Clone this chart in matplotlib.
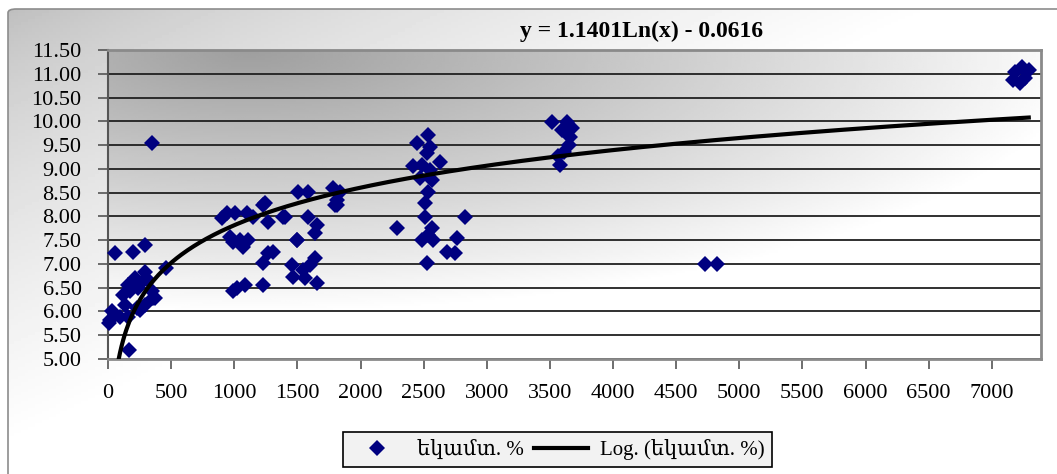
import numpy as np
import matplotlib
matplotlib.use('Agg')
import matplotlib.pyplot as plt
from matplotlib.lines import Line2D
from matplotlib.patches import FancyBboxPatch

plt.rcParams['font.family'] = ['Liberation Serif', 'DejaVu Serif']

# data
income_x = [10, 16, 29, 55, 95, 119, 135, 158, 160, 170, 174, 200, 214, 227, 238, 253,
            267, 293, 293, 293, 317, 349, 349, 358, 373, 460,
            901, 940, 967, 993, 993, 1006, 1020, 1046, 1072, 1086, 1099, 1112, 1152,
            1231, 1231, 1231, 1244, 1270, 1270, 1310, 1389, 1402, 1455, 1469, 1495,
            1495, 1508, 1548, 1561, 1587, 1587, 1601, 1640, 1640, 1653, 1653, 1785,
            1799, 1812, 1812, 1838,
            2287, 2419, 2446, 2472, 2485, 2485, 2512, 2512, 2525, 2525, 2538, 2538,
            2538, 2551, 2551, 2565, 2565, 2578, 2631, 2684, 2750, 2763, 2829,
            3516, 3568, 3582, 3595, 3608, 3635, 3648, 3661, 3674,
            4731, 4823,
            7171, 7187, 7227, 7240, 7266, 7293]
income_y = [5.76, 5.82, 6.00, 7.24, 5.89, 6.35, 6.14, 5.89, 6.56, 5.19, 6.42, 7.25, 6.70, 6.07, 6.49, 6.03,
            6.63, 6.84, 6.14, 7.40, 6.66, 6.42, 9.55, 6.28, 6.28, 6.91,
            7.96, 8.07, 7.57, 7.47, 6.42, 8.07, 6.49, 7.50, 7.36, 6.56, 8.07, 7.50, 7.99,
            8.24, 7.01, 6.56, 8.28, 7.89, 7.22, 7.26, 7.99, 7.99, 6.98, 6.73, 7.50,
            7.50, 8.52, 6.87, 6.70, 7.99, 8.52, 6.98, 7.64, 7.12, 7.82, 6.59, 8.59,
            8.24, 8.35, 8.24, 8.52,
            7.75, 9.05, 9.54, 8.80, 9.08, 7.50, 8.28, 7.99, 9.33, 7.01, 9.71, 8.52,
            7.61, 9.47, 8.98, 8.77, 7.75, 7.50, 9.15, 7.26, 7.22, 7.54, 7.99,
            9.99, 9.26, 9.08, 9.82, 9.36, 9.99, 9.50, 9.68, 9.85,
            7.00, 7.00,
            10.87, 11.04, 10.80, 11.15, 10.91, 11.08]

# trendline given on the chart
coef_a = 1.1401
coef_b = -0.0616
y_ticks = [5.0, 5.5, 6.0, 6.5, 7.0, 7.5, 8.0, 8.5, 9.0, 9.5, 10.0, 10.5, 11.0, 11.5]
x_ticks = list(range(0, 7001, 500))
x_max = 7390

W, H = 1057, 474
fig = plt.figure(figsize=(W / 100, H / 100), dpi=100)

# figure background gradient, clipped to the rounded frame
bg = fig.add_axes([0, 0, 1, 1], zorder=0)
bg.set_axis_off()
bg.set_xlim(0, 1)
bg.set_ylim(0, 1)
frame = FancyBboxPatch((8 / W, -0.5), 1.2, 0.5 + 1 - 9 / H,
                       boxstyle='round,pad=0,rounding_size=0.008',
                       transform=bg.transAxes, fill=False,
                       edgecolor='#8c8c8c', lw=1.2)
bg.add_patch(frame)
gx, gy = np.meshgrid(np.linspace(0, 1, 300), np.linspace(0, 1, 150))
shade = 0.72 + 0.28 * np.clip(1.1 * gx + 1.05 * gy, 0, 1) ** 0.65
img = bg.imshow(shade, cmap='gray', vmin=0, vmax=1, extent=[0, 1, 0, 1],
                origin='upper', aspect='auto')
img.set_clip_path(frame)

ax = fig.add_axes([108 / W, 1 - 359 / H, (1041 - 108) / W, (359 - 50) / H], zorder=1)
ax.patch.set_alpha(0)

# plot area gradient
px, py = np.meshgrid(np.linspace(0, 1, 300), np.linspace(0, 1, 150))
d = np.sqrt(((px - 0.15) / 0.9) ** 2 + (py / 0.85) ** 2)
dl = np.sqrt(((0.15 - px) / 0.8) ** 2 + (py / 0.85) ** 2)
d = np.where(px < 0.15, dl, d)
pshade = 1 - 0.38 * np.clip(1 - d, 0, 1) ** 0.95
ax.imshow(pshade, cmap='gray', vmin=0, vmax=1, extent=[0, x_max, 5, 11.5],
          origin='upper', aspect='auto', zorder=-2)

ax.set_xlim(0, x_max)
ax.set_ylim(5, 11.5)
ax.set_axisbelow(True)
ax.yaxis.grid(True, color='#202020', lw=1.3)
ax.set_yticks(y_ticks)
ax.set_yticklabels(['%.2f' % v for v in y_ticks])
ax.set_xticks(x_ticks)
ax.tick_params(axis='both', direction='out', length=7, width=1.2, colors='#555555',
               labelsize=16, labelcolor='black')
ax.tick_params(axis='x', pad=11)
ax.tick_params(axis='y', pad=12)
for side in ['top', 'right', 'bottom']:
    ax.spines[side].set_color('#8a8a8a')
    ax.spines[side].set_linewidth(2)
ax.spines['left'].set_color('#555555')
ax.spines['left'].set_linewidth(1.5)

ax.plot(income_x, income_y, 'D', color='#000080', markersize=8.4, markeredgewidth=0,
        zorder=3, clip_on=False)

tx = np.linspace(min(income_x), max(income_x), 600)
ax.plot(tx, coef_a * np.log(tx) + coef_b, color='black', lw=3, zorder=4)

fig.text(642 / W, 1 - 31 / H, 'y = 1.1401Ln(x) - 0.0616', ha='center', va='center',
         fontsize=17, fontweight='bold')

handles = [Line2D([], [], marker='D', color='#000080', ls='none', markersize=8.4,
                  markeredgewidth=0),
           Line2D([], [], color='black', lw=3)]
leg = fig.legend(handles, ['եկամտ. %', 'Log. (եկամտ. %)'], ncol=2,
                 loc='center', bbox_to_anchor=(557.5 / W, 1 - 449.5 / H),
                 fontsize=15, frameon=True, fancybox=False, edgecolor='black',
                 facecolor='#f2f2f2', framealpha=1, handlelength=2.6,
                 columnspacing=0.5, handletextpad=0.6, borderpad=0.35)
leg.get_frame().set_linewidth(1.2)

fig.savefig('out.png', dpi=100)
